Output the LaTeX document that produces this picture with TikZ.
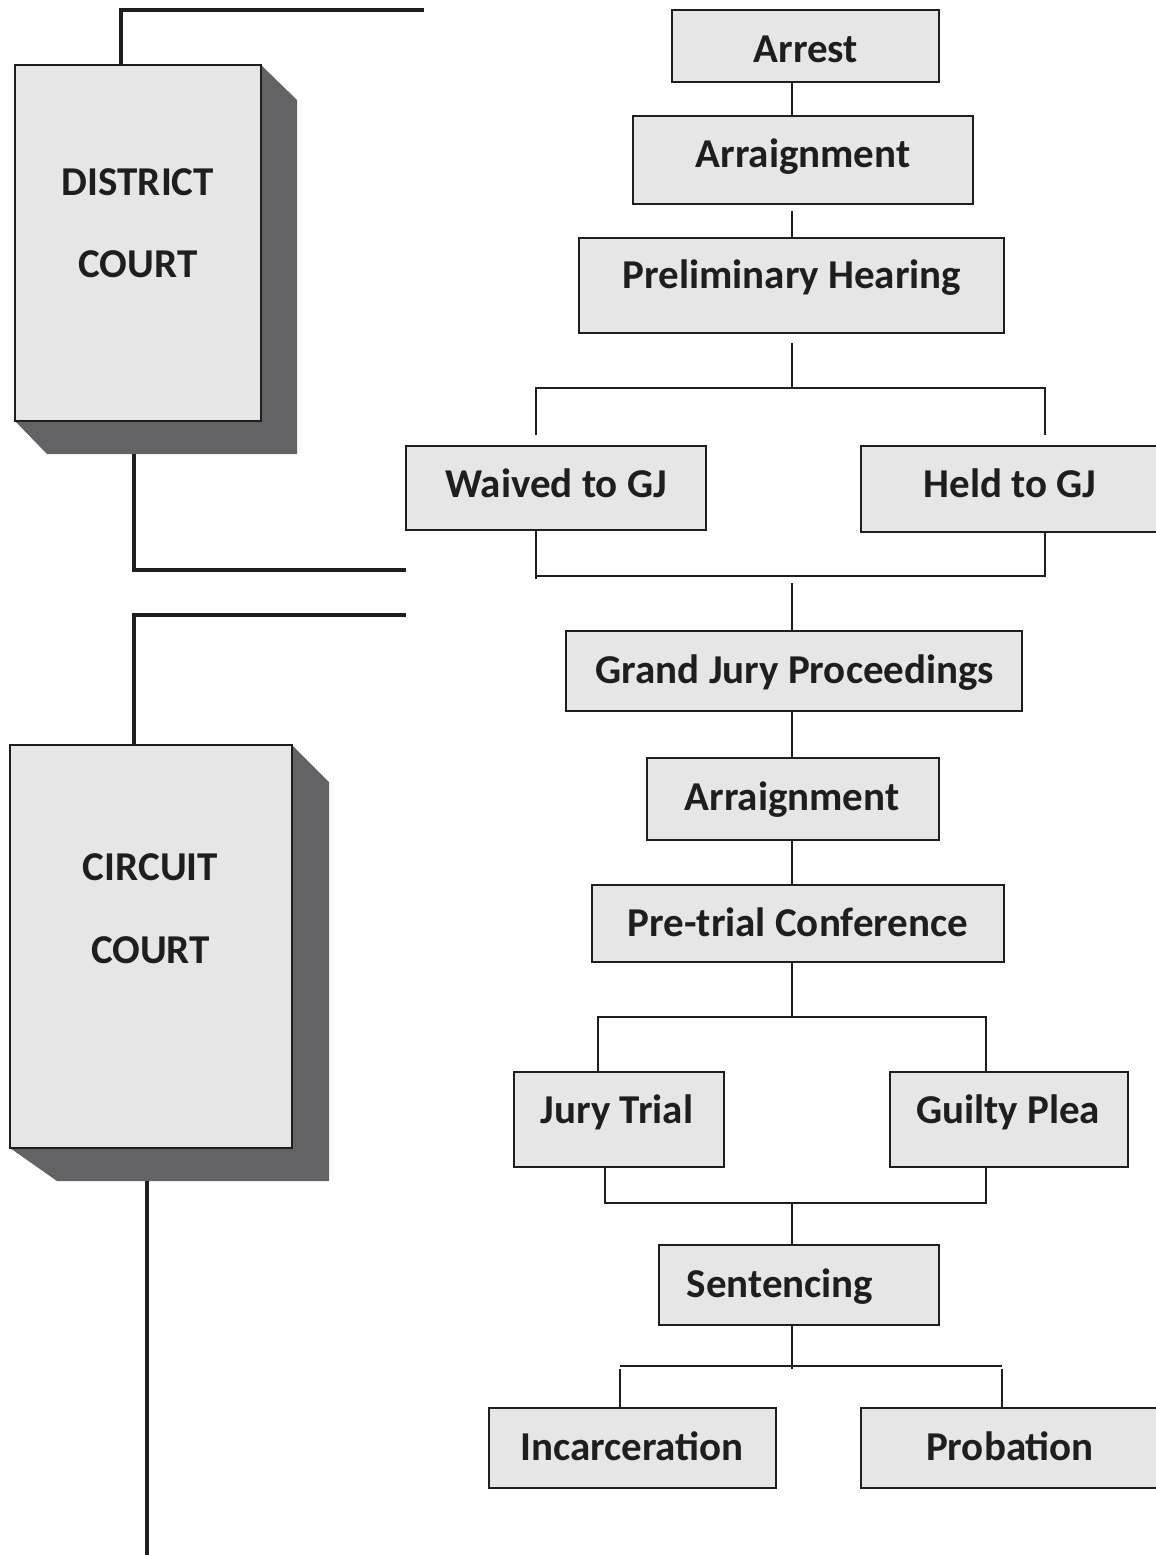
\documentclass[tikz,border=0pt]{standalone}
\usepackage{fontspec}
\setmainfont{Carlito}
\definecolor{boxgray}{HTML}{E6E6E6}
\definecolor{shadowgray}{HTML}{636365}
\definecolor{inkk}{HTML}{1E1E1E}
\tikzset{
  fbox/.style={rectangle, draw=inkk, fill=boxgray, line width=1.6pt, inner sep=0pt},
  lbl/.style={anchor=base, inner sep=0pt, font=\fontsize{41}{49}\selectfont\bfseries, text=inkk},
  conn/.style={draw=inkk, line width=1.4pt},
  bracket/.style={draw=inkk, line width=3.6pt, line join=miter},
  shade/.style={fill=shadowgray, draw=none}
}
\begin{document}
\begin{tikzpicture}[x=1pt,y=-1pt]
\useasboundingbox (0,0) rectangle (1156,1555);
\fill[white] (0,0) rectangle (1156,1555);

% ---- District court block ----
\fill[shade] (261,65) -- (297,100) -- (297,454) -- (47,454) -- (15,421) -- cycle;
\node[fbox, minimum width=246pt, minimum height=356pt] (dc) at (138,243) {};
\node[lbl] (dct1) at (138,195) {DISTRICT};
\node[lbl] (dct2) at (138,277) {COURT};
\coordinate (dcA) at (121,65);
\coordinate (dcB) at (424,10);
\draw[bracket] (dcA) -- (dcA |- dcB) -- (dcB);
\coordinate (dcC) at (134,454);
\coordinate (dcD) at (406,570);
\draw[bracket] (dcC) -- (dcC |- dcD) -- (dcD);

% ---- Circuit court block ----
\fill[shade] (292,745) -- (329,782) -- (329,1181) -- (57,1181) -- (10,1148) -- cycle;
\node[fbox, minimum width=282pt, minimum height=403pt] (cc) at (151,946.5) {};
\node[lbl] (cct1) at (150.5,880) {CIRCUIT};
\node[lbl] (cct2) at (150.5,963) {COURT};
\coordinate (ccA) at (134,745);
\coordinate (ccB) at (406,615);
\draw[bracket] (ccA) -- (ccA |- ccB) -- (ccB);
\coordinate (ccC) at (147,1181);
\coordinate (ccD) at (147,1555);
\draw[bracket] (ccC) -- (ccD);

% ---- Flow boxes ----
\node[fbox, minimum width=267pt, minimum height=72pt] (arrest) at (805.5,46) {};
\node[fbox, minimum width=340pt, minimum height=88pt] (arr1) at (803,160) {};
\node[fbox, minimum width=425pt, minimum height=95pt] (prelim) at (791.5,285.5) {};
\node[fbox, minimum width=300pt, minimum height=84pt] (waived) at (556,488) {};
\node[fbox, minimum width=296pt, minimum height=86pt] (held) at (1009,489) {};
\node[fbox, minimum width=456pt, minimum height=80pt] (gjp) at (794,671) {};
\node[fbox, minimum width=292pt, minimum height=82pt] (arr2) at (793,799) {};
\node[fbox, minimum width=412pt, minimum height=77pt] (ptc) at (798,923.5) {};
\node[fbox, minimum width=210pt, minimum height=95pt] (jury) at (619,1119.5) {};
\node[fbox, minimum width=238pt, minimum height=95pt] (guilty) at (1009,1119.5) {};
\node[fbox, minimum width=280pt, minimum height=80pt] (sent) at (799,1285) {};
\node[fbox, minimum width=287pt, minimum height=80pt] (inc) at (632.5,1448) {};
\node[fbox, minimum width=296pt, minimum height=80pt] (prob) at (1009,1448) {};

% ---- Labels ----
\node[lbl] (tarrest) at (806,63) {Arrest};
\node[lbl] (tarr1) at (803,167) {Arraignment};
\node[lbl] (tprelim) at (792,288) {Preliminary Hearing};
\node[lbl] (twaived) at (556,497) {Waived to GJ};
\node[lbl] (theld) at (1010,497) {Held to GJ};
\node[lbl] (tgjp) at (795,683) {Grand Jury Proceedings};
\node[lbl] (tarr2) at (792,810) {Arraignment};
\node[lbl] (tptc) at (798,936) {Pre-trial Conference};
\node[lbl] (tjury) at (617,1123) {Jury Trial};
\node[lbl] (tguilty) at (1008,1123) {Guilty Plea};
\node[lbl] (tsent) at (780,1297) {Sentencing};
\node[lbl] (tinc) at (632,1460) {Incarceration};
\node[lbl] (tprob) at (1010,1460) {Probation};

% ---- Connectors ----
\coordinate (mx) at (792,0);
\draw[conn] (mx |- arrest.south) -- (mx |- arr1.north);
\draw[conn] ([yshift=-6pt]mx |- arr1.south) -- (mx |- prelim.north);
% prelim split
\coordinate (s1L) at (536,388);
\coordinate (s1R) at (1045,388);
\draw[conn] ([yshift=-9pt]mx |- prelim.south) -- (mx |- s1L);
\draw[conn] ([yshift=10pt]s1L |- waived.north) -- (s1L) -- (s1R) -- ([yshift=10pt]s1R |- held.north);
% join
\coordinate (j1L) at (536,576);
\coordinate (j1R) at (1045,576);
\draw[conn] (j1L |- waived.south) -- ([yshift=-3pt]j1L);
\draw[conn] (j1L) -- (j1R) -- (j1R |- held.south);
\draw[conn] ([yshift=-7pt]mx |- j1L) -- (mx |- gjp.north);
\draw[conn] (mx |- gjp.south) -- (mx |- arr2.north);
\draw[conn] (mx |- arr2.south) -- (mx |- ptc.north);
% pre-trial split
\coordinate (s2L) at (598,1017);
\coordinate (s2R) at (986,1017);
\draw[conn] (mx |- ptc.south) -- (mx |- s2L);
\draw[conn] (s2L |- jury.north) -- (s2L) -- (s2R) -- (s2R |- guilty.north);
% join 2
\coordinate (j2L) at (605,1203);
\coordinate (j2R) at (986,1203);
\draw[conn] (j2L |- jury.south) -- (j2L) -- (j2R) -- (j2R |- guilty.south);
\draw[conn] (mx |- j2L) -- (mx |- sent.north);
% sentencing split
\coordinate (s3L) at (620,1366);
\coordinate (s3R) at (1002,1366);
\draw[conn] (mx |- sent.south) -- ([yshift=-3pt]mx |- s3L);
\draw[conn] (s3L) -- (s3R);
\draw[conn] ([yshift=-3pt]s3L) -- (s3L |- inc.north);
\draw[conn] ([yshift=-3pt]s3R) -- (s3R |- prob.north);
\end{tikzpicture}
\end{document}
